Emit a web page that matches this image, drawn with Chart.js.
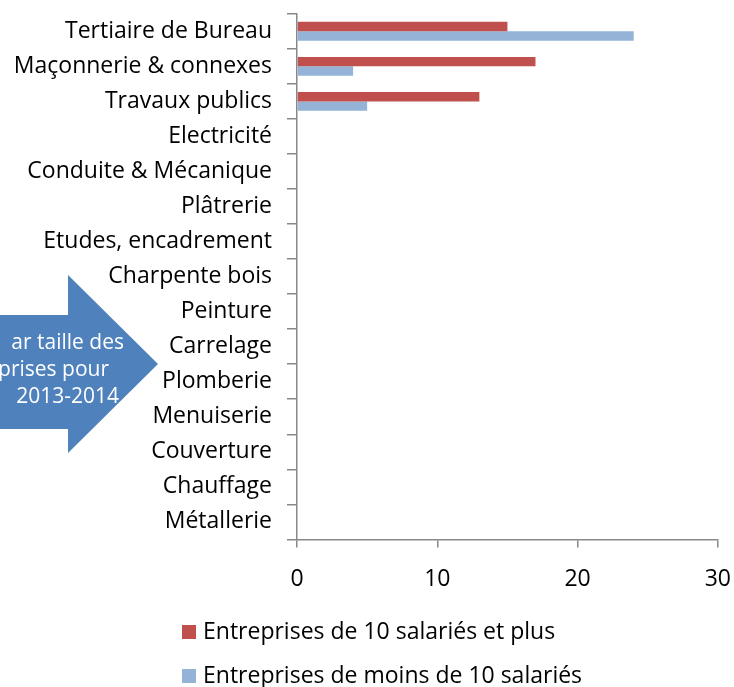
<!DOCTYPE html>
<html>
<head>
<meta charset="utf-8">
<script src="https://cdn.jsdelivr.net/npm/chart.js@4/dist/chart.umd.min.js"></script>
<style>
  body { margin: 0; background: #fff; }
  #wrap { position: relative; width: 734px; height: 687px; overflow: hidden; font-family: "Open Sans", sans-serif; }
  #box { position: absolute; left: 0; top: -15px; width: 749px; height: 636px; }
  #arrow { position: absolute; left: 0; top: 0; }
  .leg { position: absolute; left: 182px; font-size: 23px; color: #000; white-space: nowrap; line-height: 26px; }
  .leg i { display: inline-block; width: 14px; height: 14px; margin-right: 7px; vertical-align: 0px; }
</style>
</head>
<body>
<div id="wrap">
  <div id="box"><canvas id="c"></canvas></div>
  <svg id="arrow" width="170" height="470">
    <polygon points="-10,315 68,315 68,275 158,364 68,453 68,429 -10,429" fill="#4f81bd" />
    <g fill="#fff" font-family="Open Sans, sans-serif" font-size="21" text-anchor="end">
      <text x="124" y="349">ar taille des</text>
      <text x="109" y="376">prises pour</text>
      <text x="119" y="403">2013-2014</text>
    </g>
  </svg>
  <div class="leg" style="top:617px"><i style="background:#c0504d"></i>Entreprises de 10 salariés et plus</div>
  <div class="leg" style="top:661px"><i style="background:#95b3d7"></i>Entreprises de moins de 10 salariés</div>
</div>
<script>
const CATEGORIES = [
  "Tertiaire de Bureau", "Maçonnerie & connexes", "Travaux publics", "Electricité",
  "Conduite & Mécanique", "Plâtrerie", "Etudes, encadrement", "Charpente bois",
  "Peinture", "Carrelage", "Plomberie", "Menuiserie", "Couverture", "Chauffage", "Métallerie"
];
const PLUS_10 = [15, 17, 13, null, null, null, null, null, null, null, null, null, null, null, null];
const MOINS_10 = [24, 4, 5, null, null, null, null, null, null, null, null, null, null, null, null];
const X_MIN = 0, X_MAX = 30, X_STEP = 10;

const AXIS = "#888888";
const FONT = { family: "'Open Sans', sans-serif", size: 23 };

new Chart(document.getElementById("c"), {
  type: "bar",
  data: {
    labels: CATEGORIES,
    datasets: [
      { label: "Entreprises de 10 salariés et plus", data: PLUS_10, backgroundColor: "#c0504d" },
      { label: "Entreprises de moins de 10 salariés", data: MOINS_10, backgroundColor: "#95b3d7" },
    ],
  },
  options: {
    indexAxis: "y",
    responsive: true,
    maintainAspectRatio: false,
    animation: false,
    categoryPercentage: 0.54,
    barPercentage: 1,
    layout: { padding: { top: 6, right: 3, bottom: 10, left: 0 } },
    plugins: { legend: { display: false }, tooltip: { enabled: false } },
    scales: {
      y: {
        grid: { drawOnChartArea: false, drawTicks: true, tickLength: 10, color: AXIS, lineWidth: 1.5 },
        border: { color: AXIS, width: 1.5 },
        ticks: { color: "#000", font: FONT, padding: 15, autoSkip: false },
        afterFit: (s) => { s.width = 297; },
      },
      x: {
        min: X_MIN,
        max: X_MAX,
        grid: { drawOnChartArea: false, drawTicks: true, tickLength: 8, color: AXIS, lineWidth: 1.5 },
        border: { color: AXIS, width: 1.5 },
        ticks: { color: "#000", font: FONT, padding: 18, stepSize: X_STEP },
      },
    },
  },
});
</script>
</body>
</html>
